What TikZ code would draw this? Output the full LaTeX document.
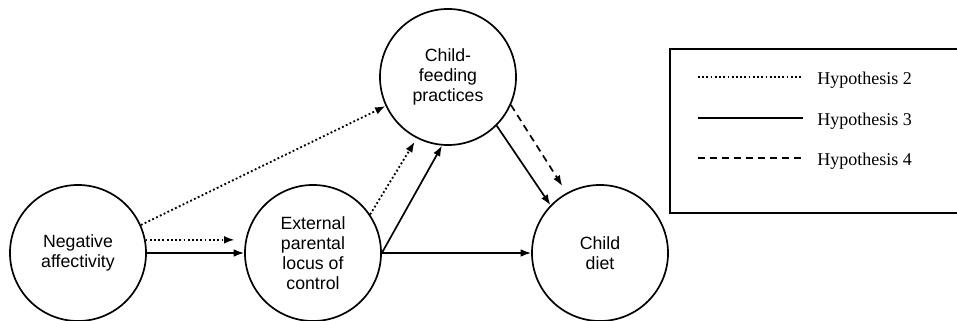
\documentclass[tikz,border=0pt]{standalone}
\usepackage{fontspec}
\setmainfont{Liberation Serif}
\newfontfamily\arialfont{Liberation Sans}
\usetikzlibrary{arrows.meta}
\begin{document}
\begin{tikzpicture}[
		x=0.025cm, y=-0.025cm,
		factor/.style={circle, draw, line width=1.2pt, minimum size=3.4cm, inner sep=0pt, align=center, font=\arialfont\fontsize{12.6}{14.3}\selectfont},
		arrow/.style={-{Latex[length=7.5pt, width=5.5pt]}, line width=1.2pt},
		hypa/.style={line width=1.3pt, dash pattern=on 1.3pt off 1.7pt},
		hypb/.style={line width=1.2pt},
		hypc/.style={line width=1.2pt, dash pattern=on 5pt off 3.5pt},
		legtext/.style={anchor=west, inner sep=0pt, font=\fontsize{12.8}{15}\selectfont}
	]
	\clip (0,0) rectangle (957,321);
	\node[factor] (neg) at (78,253) {Negative\\affectivity};
	\node[factor] (locus) at (313,253) {External\\parental\\locus of\\control};
	\node[factor] (feed) at (448,77) {Child-\\feeding\\practices};
	\node[factor] (diet) at (600,253) {Child\\diet};

	% Hypothesis 2
	\draw[arrow, hypa, shorten >=0.27cm] (neg.11) -- (locus.169);
	\draw[arrow, hypa] (neg.24) -- (feed.205);
	\draw[arrow, hypa, shorten >=0.1cm] (locus.34) -- (feed.243);
	% Hypothesis 3
	\draw[arrow, hypb] (neg.east) -- (locus.west);
	\draw[arrow, hypb] (locus.east) -- (feed.265);
	\draw[arrow, hypb] (locus.east) -- (diet.west);
	\draw[arrow, hypb] (feed.-45) -- (diet.136);
	% Hypothesis 4
	\draw[arrow, hypc, shorten >=0.2cm] (feed.-24) -- (diet.119);

	% legend
	\draw[line width=1.3pt] (1000,49) -- (670,49) -- (670,213) -- (1000,213);
	\coordinate (la) at (698,77);
	\coordinate (lb) at (698,118);
	\coordinate (lc) at (698,158);
	\node[legtext] (ta) at (817,80) {Hypothesis 2};
	\node[legtext] (tb) at (817,121) {Hypothesis 3};
	\node[legtext] (tc) at (817,161) {Hypothesis 4};
	\draw[hypa, line width=0.9pt] (la) -- ++(105,0);
	\draw[hypb] (lb) -- ++(105,0);
	\draw[hypc] (lc) -- ++(105,0);
\end{tikzpicture}
\end{document}
